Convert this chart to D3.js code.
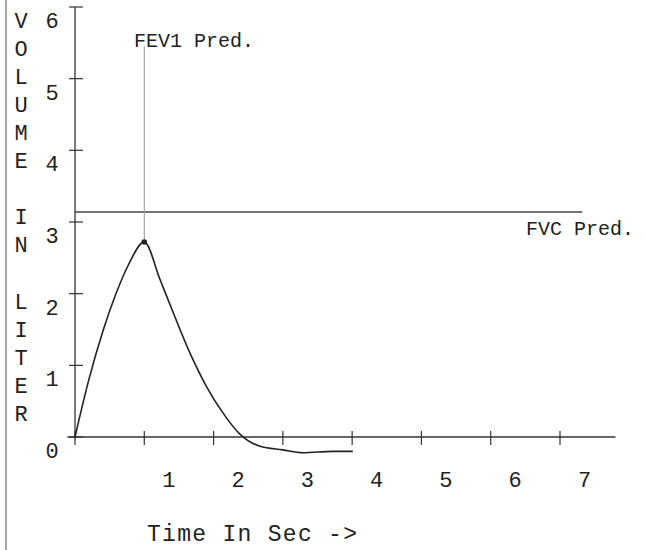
<!DOCTYPE html>
<html>
<head>
<meta charset="utf-8">
<script src="https://cdn.jsdelivr.net/npm/d3@7"></script>
<style>
  html, body { margin: 0; padding: 0; background: #fff; }
  svg { display: block; }
  text { font-family: "Liberation Mono", "DejaVu Sans Mono", monospace; fill: #222; }
</style>
</head>
<body>
<svg id="chart" width="645" height="550"></svg>
<script>
// ---- data ----
const times   = [0, 0.20, 0.41, 0.58, 0.77, 1.00, 1.23, 1.42, 1.66, 1.90, 2.14, 2.38, 2.67, 3.00, 3.29, 3.72, 4.01];
const volumes = [0, 0.80, 1.50, 1.97, 2.40, 2.72, 2.19, 1.73, 1.17, 0.70, 0.33, 0.04, -0.13, -0.18, -0.22, -0.20, -0.20];
const xTicks = [1, 2, 3, 4, 5, 6, 7];
const yTicks = [0, 1, 2, 3, 4, 5, 6];
const xTickLabels = ["1", "2", "3", "4", "5", "6", "7"];
const yTickLabels = ["0", "1", "2", "3", "4", "5", "6"];
const fvcPred = 3.14;
const fvcEnd = 7.32;
const fev1Time = 1.0;
const fev1Top = 5.45;
const yTitle = "VOLUME IN LITER";
const xTitle = "Time In Sec ->";
const fev1Label = "FEV1 Pred.";
const fvcLabel = "FVC Pred.";

// ---- scales ----
const x = d3.scaleLinear().domain([0, 7]).range([75, 560]);
const y = d3.scaleLinear().domain([0, 6]).range([437, 7]);

const svg = d3.select("#chart");

// scan edge line at left
svg.append("line").attr("x1", 6).attr("x2", 6).attr("y1", 0).attr("y2", 550)
  .attr("stroke", "#8a8a8a").attr("stroke-width", 1.5);

const axisColor = "#333";

// axis lines
svg.append("line").attr("x1", x(0)).attr("x2", x(0)).attr("y1", y(6)).attr("y2", y(-0.02))
  .attr("stroke", axisColor).attr("stroke-width", 1.3);
svg.append("line").attr("x1", x(-0.11)).attr("x2", x(7.8)).attr("y1", y(0)).attr("y2", y(0))
  .attr("stroke", axisColor).attr("stroke-width", 1.3);

// y ticks (cross marks)
svg.selectAll(".ytick").data(yTicks).enter().append("line")
  .attr("x1", x(0) - 6).attr("x2", x(0) + 8)
  .attr("y1", d => y(d)).attr("y2", d => y(d))
  .attr("stroke", axisColor).attr("stroke-width", 1.2);
svg.selectAll(".ylab").data(yTicks).enter().append("text")
  .attr("x", 52).attr("y", d => y(d) + 21)
  .attr("text-anchor", "middle").attr("font-size", 22)
  .text((d, i) => yTickLabels[i]);

// x ticks (cross marks)
svg.selectAll(".xtick").data([0].concat(xTicks)).enter().append("line")
  .attr("x1", d => x(d)).attr("x2", d => x(d))
  .attr("y1", y(0) - 6).attr("y2", y(0) + 8)
  .attr("stroke", axisColor).attr("stroke-width", 1.2);
svg.selectAll(".xlab").data(xTicks).enter().append("text")
  .attr("x", d => x(d) + 24.5).attr("y", 487)
  .attr("text-anchor", "middle").attr("font-size", 22)
  .text((d, i) => xTickLabels[i]);

// vertical y title letters
const chars = yTitle.split("");
svg.selectAll(".ytitle").data(chars).enter().append("text")
  .attr("x", 21).attr("y", (d, i) => 28 + i * 28.05)
  .attr("text-anchor", "middle").attr("font-size", 22)
  .text(d => d);

// x title
svg.append("text").attr("x", 147).attr("y", 541).attr("font-size", 23)
  .attr("textLength", 210).attr("lengthAdjust", "spacing").text(xTitle);

// FVC predicted line
svg.append("line").attr("x1", x(0)).attr("x2", x(fvcEnd))
  .attr("y1", y(fvcPred)).attr("y2", y(fvcPred))
  .attr("stroke", "#444").attr("stroke-width", 1.4);
svg.append("text").attr("x", 526).attr("y", 235).attr("font-size", 20).text(fvcLabel);

// FEV1 predicted vertical line
const peakIdx = volumes.indexOf(d3.max(volumes));
svg.append("line").attr("x1", x(fev1Time)).attr("x2", x(fev1Time))
  .attr("y1", y(fev1Top)).attr("y2", y(volumes[peakIdx]))
  .attr("stroke", "#9a9a9a").attr("stroke-width", 1.1);
svg.append("text").attr("x", 134).attr("y", 47).attr("font-size", 20).text(fev1Label);

// curve
const pts = times.map((t, i) => [t, volumes[i]]);
const line = d3.line().x(d => x(d[0])).y(d => y(d[1])).curve(d3.curveMonotoneX);
svg.append("path").attr("d", line(pts)).attr("fill", "none")
  .attr("stroke", "#222").attr("stroke-width", 1.6);

// peak dot
svg.append("circle").attr("cx", x(times[peakIdx])).attr("cy", y(volumes[peakIdx]))
  .attr("r", 2.8).attr("fill", "#222");
</script>
</body>
</html>
